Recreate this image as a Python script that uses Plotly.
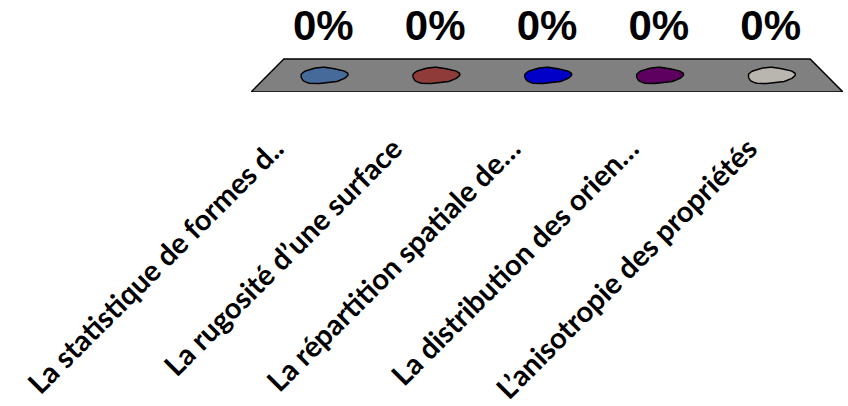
import numpy as np
import plotly.graph_objects as go

# Survey answers (share of votes, in percent)
categories = [
    "La statistique de formes d..",
    "La rugosité d’une surface",
    "La répartition spatiale de…",
    "La distribution des orien…",
    "L’anisotropie des propriétés",
]
values = [0, 0, 0, 0, 0]
colors = ["#466A9A", "#8E3B3A", "#0000C8", "#5E0060", "#B9B6B0"]

# Pseudo-3D projection: x = category position, depth 0 (front) .. 1 (back)
N = len(categories)
CENTER = (N - 1) / 2
SHRINK = 0.111          # how much the back edge narrows
HEIGHT = 0.04           # vertical data units per percent
LABEL_GAP = 1.38        # space between bar top and its value label


def proj(xc, depth, v=0.0):
    x = CENTER + (xc - CENTER) * (1 - SHRINK * depth)
    y = depth + v * HEIGHT
    return x, y


fig = go.Figure()

# floor of the 3D plot
fx, fy = [], []
for xc, d in [(-0.5, 0), (N - 0.5, 0), (N - 0.5, 1), (-0.5, 1), (-0.5, 0)]:
    px_, py_ = proj(xc, d)
    fx.append(px_)
    fy.append(py_)
fig.add_trace(go.Scatter(x=fx, y=fy, mode="lines", fill="toself",
                         fillcolor="#808080", line=dict(color="black", width=1.5),
                         hoverinfo="skip", showlegend=False))

# bar tops (flat blobs since every value is 0)
theta = np.linspace(0, 2 * np.pi, 80)
wobble = 1 + 0.07 * np.sin(2 * theta + 0.6) + 0.05 * np.cos(3 * theta + 0.3) + 0.03 * np.sin(5 * theta)
RX, RY = 0.19, 0.25
for i, (v, c) in enumerate(zip(values, colors)):
    cx, cy = proj(i, 0.5, v)
    bx = cx + RX * wobble * np.cos(theta)
    by = cy + RY * wobble * np.sin(theta)
    fig.add_trace(go.Scatter(x=bx, y=by, mode="lines", fill="toself",
                             fillcolor=c, line=dict(color="black", width=1.5),
                             hoverinfo="skip", showlegend=False))

# value labels
lx, ly = [], []
for i, v in enumerate(values):
    cx, cy = proj(i, 0.5, v)
    lx.append(cx)
    ly.append(cy + LABEL_GAP)
fig.add_trace(go.Scatter(x=lx, y=ly, mode="text",
                         text=[f"{v:.0f}%" for v in values],
                         textposition="middle center",
                         textfont=dict(family="Liberation Sans", size=42, color="black", weight="bold"),
                         cliponaxis=False, hoverinfo="skip", showlegend=False))

fig.update_layout(
    width=848, height=406,
    margin=dict(l=251, r=5, t=0, b=314, autoexpand=False),
    paper_bgcolor="white", plot_bgcolor="white",
    xaxis=dict(range=[-0.5, N - 0.5], tickvals=list(range(N)), ticktext=categories,
               tickangle=-45, showgrid=False, zeroline=False, showline=False,
               ticks="", tickfont=dict(family="Lato", size=29, color="black", weight="bold"),
               ticklabelstandoff=33, ticklabelshift=-35, automargin=False,
               fixedrange=True),
    yaxis=dict(range=[0, 92 / 33], visible=False, fixedrange=True, automargin=False),
)

fig.write_html("out.html")
